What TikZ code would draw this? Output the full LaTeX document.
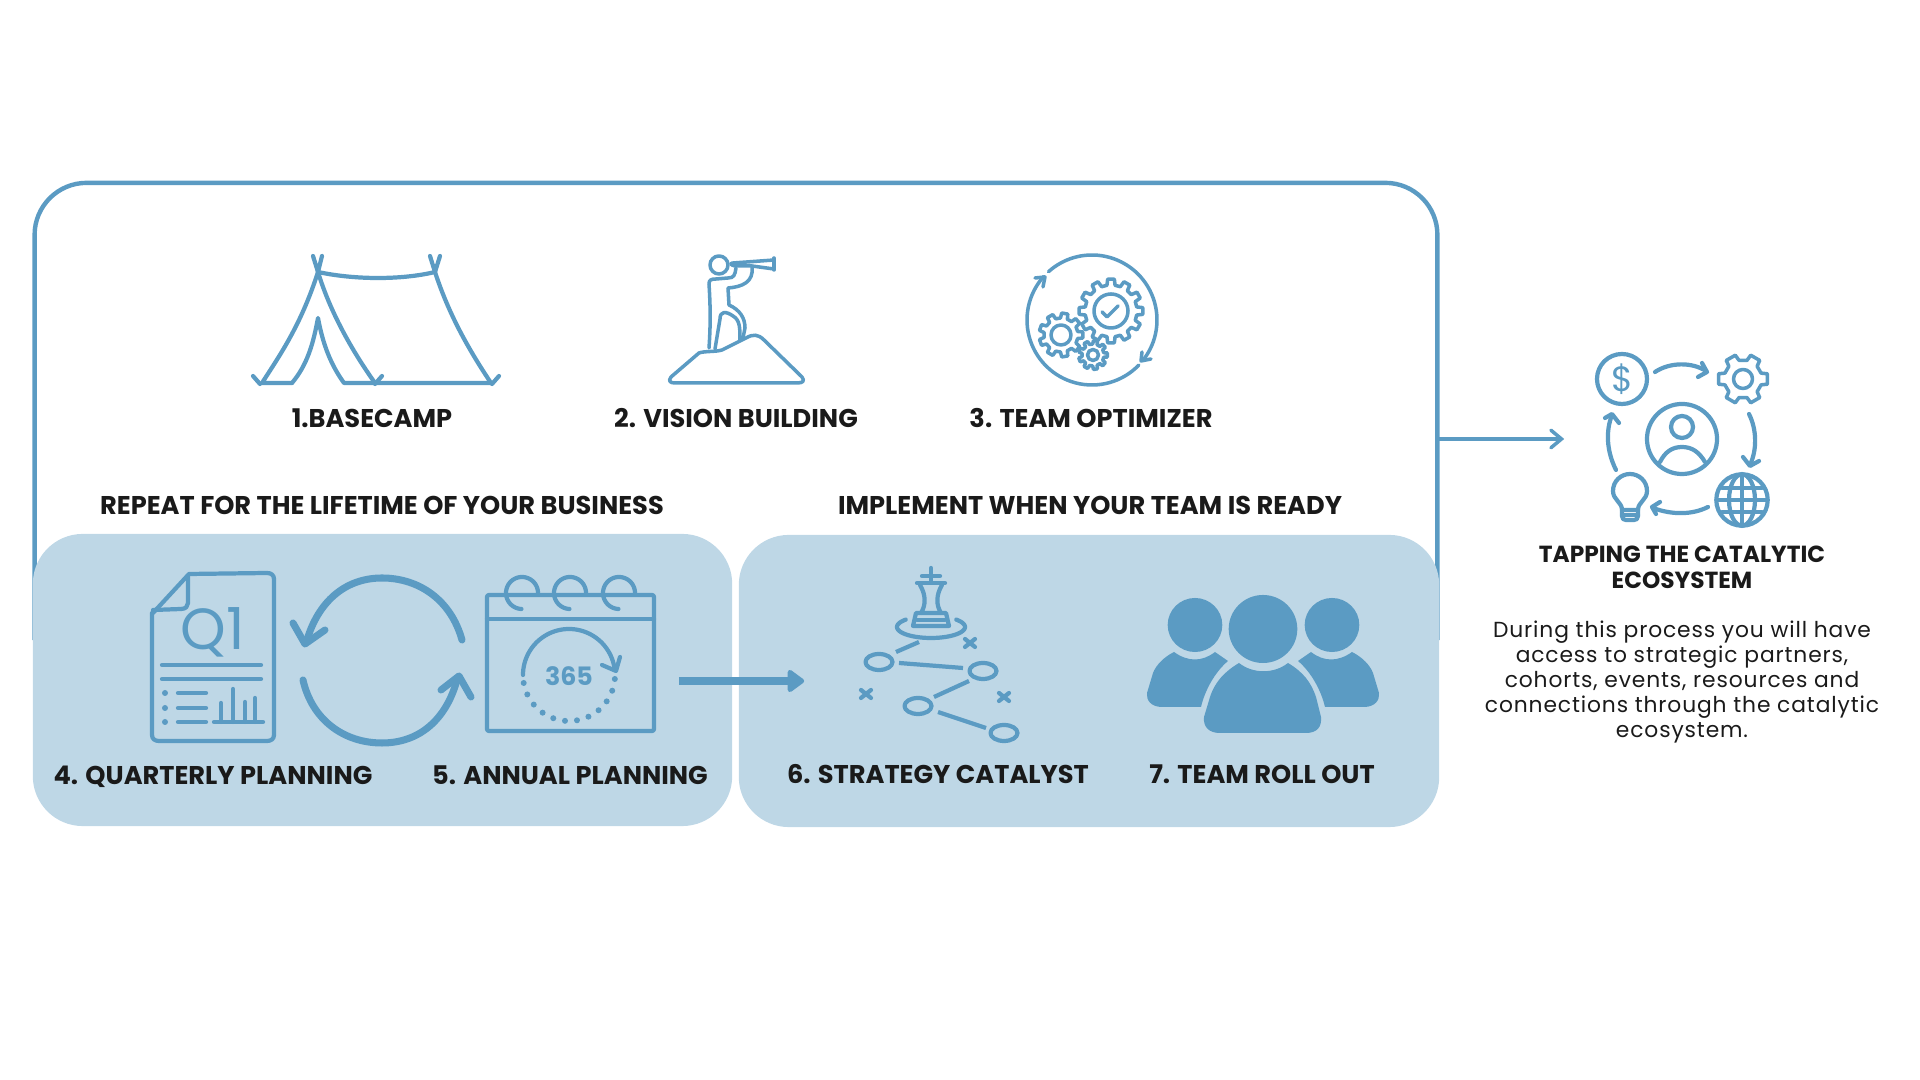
\documentclass[tikz,border=0pt]{standalone}
\usepackage{fontspec}
\setmainfont{Poppins}
\usetikzlibrary{positioning,arrows.meta}
\definecolor{steel}{HTML}{5B9BC3}
\definecolor{mist}{HTML}{BED7E6}
\definecolor{ink}{HTML}{1A1A1A}
% one gear outline: centre x, centre y, outer r, root r, teeth, bore r
\newcommand{\cogwheel}[6]{%
  \pgfmathsetmacro{\cogstep}{360/#5}
  \draw[thin ico] ({#1+#4*cos(-0.3*\cogstep)},{#2+#4*sin(-0.3*\cogstep)})
    \foreach \k in {1,...,#5}{
      -- ({#1+#3*cos((\k-1)*\cogstep-0.2*\cogstep)},{#2+#3*sin((\k-1)*\cogstep-0.2*\cogstep)})
      -- ({#1+#3*cos((\k-1)*\cogstep+0.2*\cogstep)},{#2+#3*sin((\k-1)*\cogstep+0.2*\cogstep)})
      -- ({#1+#4*cos((\k-1)*\cogstep+0.3*\cogstep)},{#2+#4*sin((\k-1)*\cogstep+0.3*\cogstep)})
      -- ({#1+#4*cos(\k*\cogstep-0.3*\cogstep)},{#2+#4*sin(\k*\cogstep-0.3*\cogstep)})
    } -- cycle;
  \draw[thin ico] (#1,#2) circle[radius=#6*0.01cm];
}
% arc with angles measured clockwise on the page: centre x, centre y, radius, from, to
\newcommand{\ringpath}[5]{plot[domain=#4:#5,samples=48] ({#1+#3*cos(\x)},{#2+#3*sin(\x)})}
\begin{document}
\begin{tikzpicture}[x=0.01cm,y=-0.01cm,
  ico/.style={draw=steel,line width=1.2pt,line cap=round,line join=round},
  thin ico/.style={ico,line width=1pt},
  fat ico/.style={ico,line width=2pt},
  panel/.style={fill=mist,rounded corners=0.5cm,minimum height=2.92cm,inner sep=0pt},
  lbl/.style={text=ink,font=\fontsize{7.3}{8}\selectfont\bfseries,inner sep=0pt,align=center,text height=5.4pt,text depth=0.4pt},
  head/.style={text=ink,font=\fontsize{6.62}{7.3}\selectfont\bfseries,inner sep=0pt,align=center},
  body/.style={text=ink,font=\fontsize{6.2}{7.08}\selectfont\addfontfeature{LetterSpace=4},inner sep=0pt,align=center},
  spot/.style={inner sep=0pt,minimum height=0.2cm},
  arr/.style={draw=steel,line width=1pt,-{Straight Barb[length=3pt,width=5pt,line cap=round]}},
  bigarr/.style={draw=steel,line width=2pt,-{Triangle[round,length=5.2pt,width=7.2pt]}}]
\useasboundingbox (0,0) rectangle (1920,1080);

% outer frame and the two panels
\node[inner sep=0pt,outer sep=0pt,minimum width=14.02cm,minimum height=4.57cm] (camp) at (736,411.5) {};
\draw[draw=steel,line width=1.25pt,rounded corners=0.52cm] (camp.south west) -- (camp.north west) -- (camp.north east) -- (camp.south east);
\node[panel,minimum width=6.99cm] (repeatpanel) at (382.5,680) {};
\node[panel,minimum width=7.0cm] (rolloutpanel) at (1089,681) {};

% tent
\draw[ico] (318,272) .. controls (301,325) and (280,355) .. (262,383) -- (292,383);
\draw[ico] (292,383) .. controls (307,365) and (313,345) .. (318,318) .. controls (323,345) and (331,365) .. (344,383) -- (491,383);
\draw[ico] (318,272) .. controls (331,315) and (355,355) .. (375,383);
\draw[ico] (435,272) .. controls (449,315) and (469,350) .. (491,383);
\draw[ico] (318,272) .. controls (355,280) and (402,280) .. (435,272);
\draw[ico] (313,256) -- (318,272) -- (322,256);
\draw[ico] (430,256) -- (435,272) -- (440,256);
\draw[ico] (253,376) -- (260,384);
\draw[ico] (382,376) -- (375,384);
\draw[ico] (499,376) -- (492,384);

% climber with telescope
\draw[thin ico] (719,265) circle[radius=0.09cm];
\draw[thin ico] (733,263) -- (774,260) -- (774,269) -- (752,266) -- (735,266) .. controls (730,265) and (730,263) .. (733,263);
\draw[thin ico] (774,258) -- (774,270);
\draw[thin ico] (709,348) .. controls (711,320) and (710,300) .. (709,284) .. controls (709,280) and (711,279) .. (716,279) -- (728,278) .. controls (734,278) and (735,275) .. (736,268);
\draw[thin ico] (752,267) .. controls (754,282) and (742,287) .. (728,288) -- (729,305) .. controls (740,310) and (745,318) .. (745,328) -- (743,338);
\draw[thin ico] (715,349) -- (720,319) .. controls (720,311) and (726,311) .. (733,316) .. controls (740,320) and (740,328) .. (740,340);
\draw[thin ico] (675,383) -- (797,383) .. controls (803,383) and (805,381) .. (802,377) -- (764,340) .. controls (758,334) and (753,334) .. (746,338) -- (722,350) .. controls (716,352) and (704,351) .. (699,353) -- (671,377) .. controls (668,381) and (670,383) .. (675,383);

% gears inside the ring
\draw[thin ico] \ringpath{1092}{320}{65}{-132}{38};
\draw[thin ico] \ringpath{1092}{320}{65}{44}{222};
\draw[thin ico] (1035,278) -- (1045,277) -- (1043,287);
\draw[thin ico] (1142,352) -- (1141,361) -- (1151,359);
\cogwheel{1111}{311}{32}{26}{12}{17}
\cogwheel{1061}{335}{22}{17}{9}{10}
\cogwheel{1093}{355}{14.5}{11}{9}{5.5}
\draw[thin ico] (1102,312) -- (1107,317) -- (1118,306);

% quarterly report sheet
\draw[ico] (153,613) -- (189,574) -- (267,573) .. controls (271,573) and (274,575) .. (274,579) -- (274,735) .. controls (274,739) and (271,741) .. (267,741) -- (159,741) .. controls (155,741) and (152,739) .. (152,735) -- (152,613);
\draw[ico] (153,610) -- (181,609) .. controls (186,609) and (188,606) .. (188,603) -- (188,576);
\node[text=steel,font=\fontsize{16.5}{17}\selectfont,inner sep=0pt] (qone) at (213,632) {Q1};
\draw[ico] (162,665) -- (261,665);
\draw[ico] (162,679) -- (261,679);
\foreach \yy in {693,708,722}{
  \fill[steel] (165,\yy) circle[radius=0.03cm];
  \draw[ico] (178,\yy) -- (206,\yy);
}
\draw[ico] (214,722) -- (263,722);
\draw[ico] (221,703) -- (221,722);
\draw[ico] (233,689) -- (233,722);
\draw[ico] (245,702) -- (245,722);
\draw[ico] (255,698) -- (255,722);

% cycle arrows
\draw[fat ico] (462,640) .. controls (451,600) and (419,578) .. (382,578) .. controls (344,578) and (318,603) .. (307,640);
\draw[fat ico] (293,623) -- (305,644) -- (325,630);
\draw[fat ico] (303,680) .. controls (312,720) and (344,743) .. (382,743) .. controls (419,743) and (446,720) .. (457,680);
\draw[fat ico] (441,690) -- (459,676) -- (471,697);

% calendar
\draw[ico,rounded corners=0.02cm] (487,595) rectangle (654,731);
\draw[ico] (487,619) -- (654,619);
\foreach \xx in {522,570,619}{
  \draw[ico] \ringpath{\xx}{593}{16}{0}{-268};
}
\draw[ico] \ringpath{569}{675}{46}{180}{350};
\draw[ico] (602,665) -- (616,671) -- (620,657);
\foreach \aa in {5,20,...,175}{
  \fill[steel] ({569+46*cos(\aa)},{675+46*sin(\aa)}) circle[radius=0.03cm];
}
\node[text=steel,font=\fontsize{7.2}{8}\selectfont\bfseries,inner sep=0pt] (days) at (569,676) {365};

% king and plays
\draw[ico] (931,568) -- (931,582);
\draw[ico] (922,576) -- (940,576);
\draw[ico] (917,583) -- (945,583);
\draw[ico] (920,585) .. controls (926,595) and (926,605) .. (921,613);
\draw[ico] (942,585) .. controls (936,595) and (936,605) .. (941,613);
\draw[ico] (916,613) -- (946,613) -- (949,626) -- (913,626) -- cycle;
\draw[ico] (917,620) -- (945,620);
\draw[ico] plot[domain=-42:222,samples=48] ({931+34*cos(\x)},{627+11*sin(\x)});
\foreach \cx/\cy in {879/662,983/671,918/706,1004/733}{
  \draw[ico] (\cx,\cy) ellipse[x radius=0.135cm,y radius=0.08cm];
}
\draw[ico,line cap=butt] (896,652) -- (919,642);
\draw[ico,line cap=butt] (899,663) -- (963,668);
\draw[ico,line cap=butt] (969,681) -- (934,697);
\draw[ico,line cap=butt] (938,712) -- (986,728);
\foreach \cx/\cy in {970/643,866/694,1004/697}{
  \draw[ico] (\cx-5,\cy-4) -- (\cx+5,\cy+4);
  \draw[ico] (\cx-5,\cy+4) -- (\cx+5,\cy-4);
}

% team
\fill[steel] (1195,625) ellipse[x radius=0.273cm,y radius=0.27cm];
\fill[steel] (1263,629) ellipse[x radius=0.343cm,y radius=0.34cm];
\fill[steel] (1332,625) ellipse[x radius=0.273cm,y radius=0.27cm];
\fill[steel] (1174,652) .. controls (1188,662) and (1202,662) .. (1215,652) -- (1228,661) .. controls (1215,672) and (1205,690) .. (1201,707) -- (1162,707) .. controls (1151,707) and (1146,700) .. (1147,693) -- (1153,673) .. controls (1156,665) and (1164,657) .. (1174,652) -- cycle;
\fill[steel] (1352,652) .. controls (1338,662) and (1324,662) .. (1311,652) -- (1298,661) .. controls (1311,672) and (1321,690) .. (1325,707) -- (1364,707) .. controls (1375,707) and (1380,700) .. (1379,693) -- (1373,673) .. controls (1370,665) and (1362,657) .. (1352,652) -- cycle;
\fill[steel] (1239,663) .. controls (1253,674) and (1274,674) .. (1288,663) .. controls (1303,672) and (1311,682) .. (1316,697) -- (1321,717) .. controls (1322,727) and (1317,733) .. (1306,733) -- (1220,733) .. controls (1209,733) and (1203,727) .. (1204,717) -- (1210,697) .. controls (1215,682) and (1224,672) .. (1239,663) -- cycle;

% ecosystem loop
\draw[ico] (1622,379) circle[radius=0.25cm];
\node[text=steel,font=\fontsize{10}{11}\selectfont,inner sep=0pt] (dollar) at (1622,379) {\$};
\cogwheel{1743}{379}{25}{19}{6}{9.5}
\draw[ico] (1682,439) circle[radius=0.35cm];
\draw[ico] (1682,427) circle[radius=0.11cm];
\draw[ico] (1660,462) .. controls (1665,452) and (1672,447) .. (1682,447) .. controls (1692,447) and (1699,452) .. (1705,462);
\draw[ico] (1742,500) circle[radius=0.257cm];
\draw[ico] (1742,500) ellipse[x radius=0.13cm,y radius=0.257cm];
\draw[ico] (1742,474) -- (1742,526);
\draw[ico] (1717,500) -- (1767,500);
\draw[ico] (1722,488) -- (1762,488);
\draw[ico] (1722,512) -- (1762,512);
\draw[ico] (1622,510) .. controls (1622,502) and (1613,500) .. (1613,491) .. controls (1613,481) and (1621,474) .. (1630,474) .. controls (1639,474) and (1647,481) .. (1647,491) .. controls (1647,500) and (1638,502) .. (1638,510) -- cycle;
\draw[ico] (1622,510) -- (1622,516) .. controls (1622,519) and (1624,520) .. (1626,520) -- (1634,520) .. controls (1636,520) and (1638,519) .. (1638,516) -- (1638,510);
\draw[ico] (1622,515) -- (1638,515);
\draw[ico] (1655,372) .. controls (1670,362) and (1692,362) .. (1706,371);
\draw[ico] (1702,363) -- (1707,372) -- (1698,377);
\draw[ico] (1749,414) .. controls (1757,430) and (1757,450) .. (1750,465);
\draw[ico] (1743,457) -- (1750,466) -- (1759,461);
\draw[ico] (1708,507) .. controls (1692,515) and (1672,515) .. (1653,508);
\draw[ico] (1660,502) -- (1652,507) -- (1656,514);
\draw[ico] (1616,470) .. controls (1606,450) and (1606,430) .. (1612,415);
\draw[ico] (1605,418) -- (1612,414) -- (1619,423);

% connectors
\node[spot,minimum width=2.26cm] (annualicon) at (565,681) {};
\node[spot,minimum width=2.5cm] (strategyicon) at (930,681) {};
\node[spot,minimum width=2.34cm] (ecoicon) at (1682,439) {};
\draw[bigarr] (annualicon.east) -- (strategyicon.west);
\draw[arr] (camp.east |- ecoicon.west) -- (ecoicon.west);

% labels
\node[lbl] (basecamp) at (372,419) {1.BASECAMP};
\node[lbl] (vision) at (736,419) {2. VISION BUILDING};
\node[lbl] (optimizer) at (1091,419) {3. TEAM OPTIMIZER};
\node[lbl] (repeathead) at (382,506) {REPEAT FOR THE LIFETIME OF YOUR BUSINESS};
\node[lbl] (implementhead) at (1090,506) {IMPLEMENT WHEN YOUR TEAM IS READY};
\node[lbl] (quarterly) at (213,776) {4. QUARTERLY PLANNING};
\node[lbl] (annual) at (570,776) {5. ANNUAL PLANNING};
\node[lbl] (catalyst) at (938,775) {6. STRATEGY CATALYST};
\node[lbl] (rollout) at (1262,775) {7. TEAM ROLL OUT};
\node[head] (tapping) at (1682,567.5) {TAPPING THE CATALYTIC\\ECOSYSTEM};
\node[body] (process) at (1682,682) {During this process you will have\\access to strategic partners,\\cohorts, events, resources and\\connections through the catalytic\\ecosystem.};
\end{tikzpicture}
\end{document}
